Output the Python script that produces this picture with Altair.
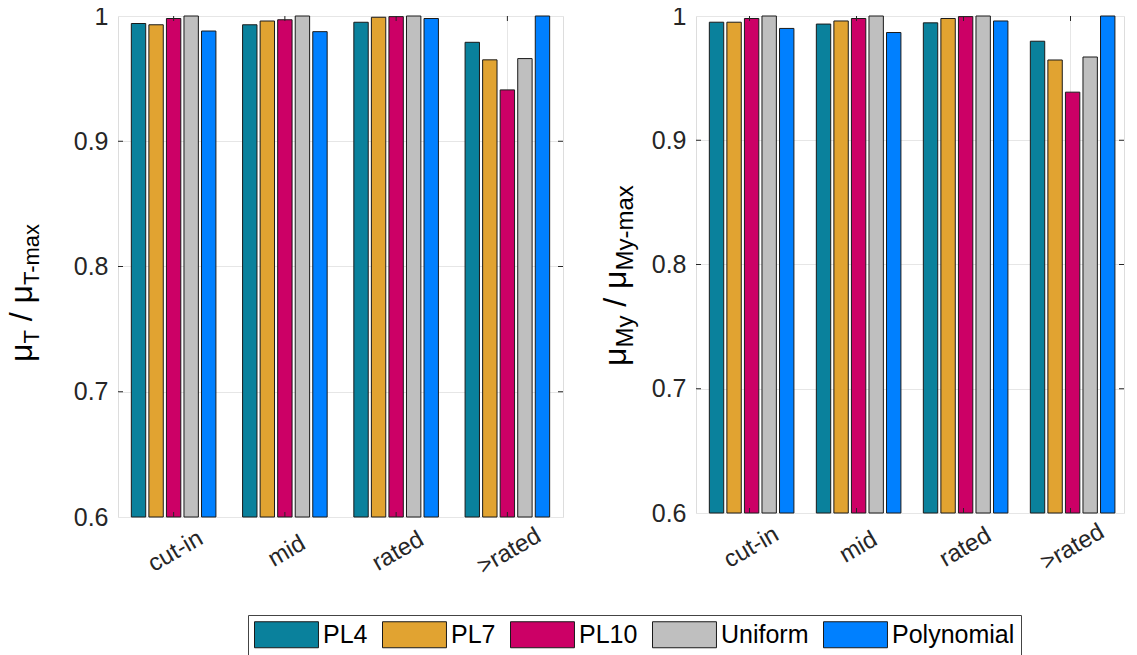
import altair as alt
import pandas as pd

categories = ["cut-in", "mid", "rated", ">rated"]
series = ["PL4", "PL7", "PL10", "Uniform", "Polynomial"]
colors = ["#0A819C", "#E1A331", "#CC0066", "#BFBFBF", "#0080FF"]
y_ticks = [0.6, 0.7, 0.8, 0.9, 1.0]

# left panel: mu_T / mu_T-max
left_PL4 = [0.994, 0.993, 0.995, 0.979]
left_PL7 = [0.993, 0.996, 0.999, 0.965]
left_PL10 = [0.998, 0.997, 0.9995, 0.941]
left_Uniform = [1.0, 1.0, 1.0, 0.966]
left_Polynomial = [0.988, 0.9875, 0.998, 1.0]

# right panel: mu_My / mu_My-max
right_PL4 = [0.995, 0.9935, 0.9945, 0.9797]
right_PL7 = [0.995, 0.996, 0.998, 0.9646]
right_PL10 = [0.998, 0.998, 0.9995, 0.9387]
right_Uniform = [1.0, 1.0, 1.0, 0.967]
right_Polynomial = [0.990, 0.9867, 0.996, 1.0]

FONT = "Liberation Sans"
TICK = "#262626"


def to_long(cols):
    rows = []
    for s, vals in zip(series, cols):
        for c, v in zip(categories, vals):
            rows.append({"cat": c, "series": s, "value": v})
    return pd.DataFrame(rows)


left_df = to_long([left_PL4, left_PL7, left_PL10, left_Uniform, left_Polynomial])
right_df = to_long([right_PL4, right_PL7, right_PL10, right_Uniform, right_Polynomial])
ytick_df = pd.DataFrame({"value": y_ticks[1:-1]})
xtick_df = pd.DataFrame({"cat": categories})

legend = alt.Legend(
    title=None,
    orient="none",
    legendX=130,
    legendY=599,
    direction="horizontal",
    symbolType="M-1,-1H3.92V1H-1Z",
    symbolSize=676,
    symbolStrokeColor="#1a1a1a",
    symbolStrokeWidth=1,
    symbolOpacity=1,
    labelFontSize=25,
    labelFont=FONT,
    labelColor="#000000",
    labelOffset=42,
    columnPadding=12,
    padding=6,
    strokeColor="#444444",
    fillColor="#ffffff",
    labelLimit=400,
)


def title_piece(text, size, ax, ay):
    return alt.Chart(alt.Data(values=[{}])).mark_text(
        text=text, fontSize=size, angle=270, align="left", baseline="alphabetic",
        font=FONT, color="#000000"
    ).encode(x=alt.value(ax), y=alt.value(ay))


def title_pieces(parts, bx, by, sub_shift=7):
    layers = []
    y = by
    for text, size, is_sub, adv in parts:
        if text.strip():
            layers.append(title_piece(text, size, bx + (sub_shift if is_sub else 0), y))
        y -= adv
    return layers


def panel(df, width, height, pieces):
    xenc = alt.X(
        "cat:N", sort=categories,
        scale=alt.Scale(paddingInner=0, paddingOuter=0),
        axis=alt.Axis(
            title=None, labelAngle=330, labelAlign="center", labelBaseline="middle",
            labelPadding=34, labelFontSize=24, labelFont=FONT, labelColor=TICK,
            labelOffset=2,
            ticks=False, domain=False, grid=True, gridColor="#e6e6e6",
            bandPosition=0.5,
        ),
    )
    yscale = alt.Scale(domain=[0.6, 1.0], zero=False, nice=False)
    bars = alt.Chart(df).mark_bar(stroke="#1a1a1a", strokeWidth=1).encode(
        x=xenc,
        xOffset=alt.XOffset(
            "series:N", sort=series,
            scale=alt.Scale(paddingInner=0.18, paddingOuter=0.76),
        ),
        y=alt.Y(
            "value:Q", scale=yscale,
            axis=alt.Axis(
                title=None, values=y_ticks,
                labelExpr="datum.value == 1 ? '1' : format(datum.value, '.1f')",
                labelFontSize=25, labelFont=FONT, labelColor=TICK, labelPadding=10,
                ticks=False, domain=False, grid=True, gridColor="#e6e6e6",
            ),
        ),
        y2=alt.datum(0.6),
        color=alt.Color("series:N", sort=series,
                        scale=alt.Scale(domain=series, range=colors), legend=legend),
    )
    yt_left = alt.Chart(ytick_df).mark_rule(color=TICK, strokeWidth=1).encode(
        y=alt.Y("value:Q", scale=yscale), x=alt.value(0), x2=alt.value(5))
    yt_right = alt.Chart(ytick_df).mark_rule(color=TICK, strokeWidth=1).encode(
        y=alt.Y("value:Q", scale=yscale), x=alt.value(width - 5), x2=alt.value(width))
    xt_bot = alt.Chart(xtick_df).mark_rule(color=TICK, strokeWidth=1).encode(
        x=alt.X("cat:N", sort=categories), y=alt.value(height - 5), y2=alt.value(height))
    xt_top = alt.Chart(xtick_df).mark_rule(color=TICK, strokeWidth=1).encode(
        x=alt.X("cat:N", sort=categories), y=alt.value(0), y2=alt.value(5))
    return alt.layer(bars, yt_left, yt_right, xt_bot, xt_top, *pieces).properties(
        width=width, height=height)


MU = 0.576
left_title = title_pieces([
    ("μ", 32, False, MU * 32),
    ("T", 22, True, 0.611 * 22),
    (" ", 32, False, 0.278 * 32),
    ("/", 32, False, 0.278 * 32),
    (" ", 32, False, 0.278 * 32),
    ("μ", 32, False, MU * 32),
    ("T-max", 22, True, 2.833 * 22),
], -86, 346)

right_title = title_pieces([
    ("μ", 32, False, MU * 32),
    ("My", 24, True, 1.333 * 24),
    (" ", 32, False, 0.278 * 32),
    ("/", 32, False, 0.278 * 32),
    (" ", 32, False, 0.278 * 32),
    ("μ", 32, False, MU * 32),
    ("My-max", 24, True, 3.555 * 24),
], -70, 350)

left = panel(left_df, 445, 501, left_title)
right = panel(right_df, 428, 497, right_title)

chart = alt.hconcat(left, right, spacing=35).properties(
    padding={"left": -3, "top": -5, "right": 0, "bottom": 0}
).configure_view(
    stroke="#555555", strokeWidth=1
).configure(font=FONT)

chart.save("out.html", embed_options={"renderer": "svg", "actions": False})
